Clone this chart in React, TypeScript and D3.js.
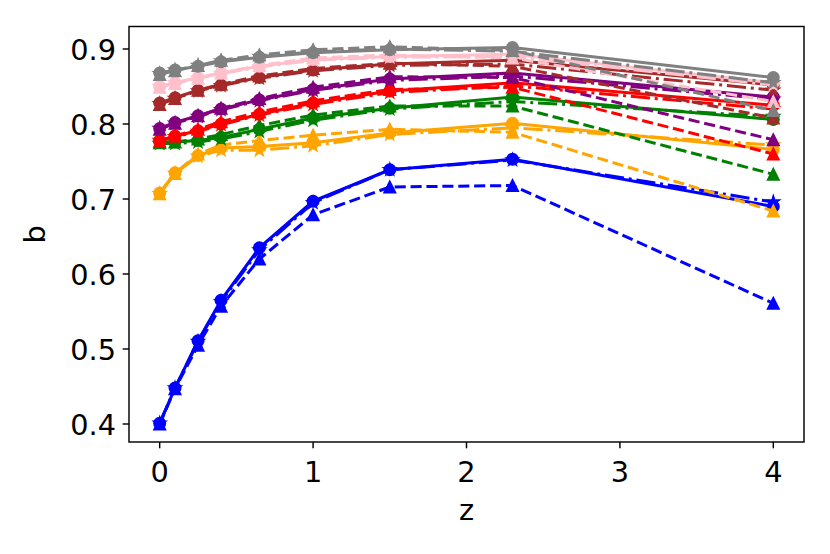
import React from 'react';
import * as d3 from 'd3';

const zValues = [0, 0.1, 0.25, 0.4, 0.65, 1, 1.5, 2.3, 4];
const xTicks = [0, 1, 2, 3, 4];
const yTicks = [0.4, 0.5, 0.6, 0.7, 0.8, 0.9];

// solid / circle, dashed / triangle, dash-dot / star
const blueSolid = [0.401, 0.448, 0.511, 0.565, 0.635, 0.697, 0.739, 0.753, 0.69];
const blueDashed = [0.4, 0.447, 0.505, 0.557, 0.62, 0.679, 0.716, 0.718, 0.561];
const blueDashDot = [0.401, 0.448, 0.51, 0.563, 0.632, 0.695, 0.739, 0.752, 0.696];

const orangeSolid = [0.708, 0.735, 0.758, 0.768, 0.77, 0.775, 0.788, 0.801, 0.766];
const orangeDashed = [0.707, 0.734, 0.76, 0.772, 0.778, 0.785, 0.793, 0.789, 0.684];
const orangeDashDot = [0.707, 0.734, 0.757, 0.765, 0.765, 0.771, 0.786, 0.795, 0.772];

const greenSolid = [0.776, 0.776, 0.778, 0.782, 0.793, 0.808, 0.821, 0.836, 0.806];
const greenDashed = [0.775, 0.776, 0.78, 0.786, 0.798, 0.812, 0.824, 0.824, 0.733];
const greenDashDot = [0.774, 0.774, 0.776, 0.78, 0.79, 0.805, 0.82, 0.83, 0.81];

const redSolid = [0.778, 0.784, 0.791, 0.8, 0.813, 0.828, 0.844, 0.855, 0.825];
const redDashed = [0.777, 0.784, 0.793, 0.803, 0.816, 0.831, 0.846, 0.849, 0.76];
const redDashDot = [0.778, 0.783, 0.79, 0.799, 0.812, 0.826, 0.842, 0.851, 0.82];

const purpleSolid = [0.794, 0.802, 0.811, 0.82, 0.832, 0.846, 0.86, 0.868, 0.836];
const purpleDashed = [0.793, 0.801, 0.811, 0.821, 0.834, 0.849, 0.863, 0.862, 0.779];
const purpleDashDot = [0.794, 0.801, 0.81, 0.819, 0.831, 0.845, 0.858, 0.864, 0.833];

const brownSolid = [0.828, 0.835, 0.845, 0.852, 0.862, 0.872, 0.88, 0.885, 0.852];
const brownDashed = [0.826, 0.834, 0.845, 0.853, 0.864, 0.874, 0.881, 0.877, 0.808];
const brownDashDot = [0.827, 0.834, 0.844, 0.851, 0.861, 0.871, 0.878, 0.88, 0.845];

const pinkSolid = [0.85, 0.855, 0.862, 0.868, 0.877, 0.886, 0.89, 0.893, 0.855];
const pinkDashed = [0.849, 0.854, 0.861, 0.868, 0.878, 0.888, 0.892, 0.888, 0.83];
const pinkDashDot = [0.85, 0.855, 0.861, 0.867, 0.876, 0.885, 0.889, 0.89, 0.852];

const graySolid = [0.868, 0.872, 0.877, 0.883, 0.889, 0.895, 0.899, 0.902, 0.862];
const grayDashed = [0.866, 0.871, 0.878, 0.885, 0.892, 0.899, 0.903, 0.898, 0.818];
const grayDashDot = [0.867, 0.872, 0.878, 0.884, 0.89, 0.896, 0.9, 0.897, 0.855];

const groups = [
  {color: 'blue', solid: blueSolid, dashed: blueDashed, dashDot: blueDashDot},
  {color: 'orange', solid: orangeSolid, dashed: orangeDashed, dashDot: orangeDashDot},
  {color: 'green', solid: greenSolid, dashed: greenDashed, dashDot: greenDashDot},
  {color: 'red', solid: redSolid, dashed: redDashed, dashDot: redDashDot},
  {color: 'purple', solid: purpleSolid, dashed: purpleDashed, dashDot: purpleDashDot},
  {color: 'brown', solid: brownSolid, dashed: brownDashed, dashDot: brownDashDot},
  {color: 'pink', solid: pinkSolid, dashed: pinkDashed, dashDot: pinkDashDot},
  {color: 'gray', solid: graySolid, dashed: grayDashed, dashDot: grayDashDot},
];

const width = 830;
const height = 554;
const plot = {left: 129, right: 804, top: 26.5, bottom: 442};
const font = '"DejaVu Sans", sans-serif';
const fontSize = 28.8;
const lineWidth = 3;
const markerR = 5.6;

const x = d3.scaleLinear().domain([-0.2, 4.2]).range([plot.left, plot.right]);
const y = d3.scaleLinear().domain([0.376, 0.93]).range([plot.bottom, plot.top]);

const line = d3
  .line<number>()
  .x((_, i) => x(zValues[i]))
  .y((d) => y(d));

function starPath(r: number) {
  const inner = r * 0.381966;
  const pts: string[] = [];
  for (let i = 0; i < 10; i++) {
    const a = -Math.PI / 2 + (i * Math.PI) / 5;
    const rr = i % 2 === 0 ? r : inner;
    pts.push(`${rr * Math.cos(a)},${rr * Math.sin(a)}`);
  }
  return `M${pts.join('L')}Z`;
}

const markerPaths: Record<string, string> = {
  circle: `M${markerR},0A${markerR},${markerR},0,1,1,${-markerR},0A${markerR},${markerR},0,1,1,${markerR},0Z`,
  triangle: `M0,${-markerR}L${-markerR},${markerR}L${markerR},${markerR}Z`,
  star: starPath(markerR * 1.05),
};

const styles = [
  {key: 'solid', dash: undefined, marker: 'circle'},
  {key: 'dashed', dash: '11.1,4.8', marker: 'triangle'},
  {key: 'dashDot', dash: '19.2,4.8,3,4.8', marker: 'star'},
] as const;

const App: React.FC = () => {
  return (
    <svg
      width={width}
      height={height}
      style={{position: 'absolute', left: 0, top: 0, background: '#fff'}}
      fontFamily={font}
    >
      <rect x={0} y={0} width={width} height={height} fill='#fff' />
      <g>
        {groups.map((g) =>
          styles.map((s) => {
            const values = g[s.key];
            return (
              <g key={`${g.color}-${s.key}`}>
                <path
                  d={line(values) ?? ''}
                  fill='none'
                  stroke={g.color}
                  strokeWidth={lineWidth}
                  strokeDasharray={s.dash}
                  strokeLinejoin='round'
                />
                {values.map((v, i) => (
                  <path
                    key={i}
                    d={markerPaths[s.marker]}
                    transform={`translate(${x(zValues[i])},${y(v)})`}
                    fill={g.color}
                    stroke={g.color}
                    strokeWidth={1.8}
                    strokeLinejoin='miter'
                  />
                ))}
              </g>
            );
          })
        )}
      </g>
      <rect
        x={plot.left}
        y={plot.top}
        width={plot.right - plot.left}
        height={plot.bottom - plot.top}
        fill='none'
        stroke='#000'
        strokeWidth={1.44}
      />
      {xTicks.map((t) => (
        <g key={`x${t}`} transform={`translate(${x(t)},${plot.bottom})`}>
          <line y2={6.3} stroke='#000' strokeWidth={1.44} />
          <text y={39.5} textAnchor='middle' fontSize={fontSize} fill='#000'>
            {t}
          </text>
        </g>
      ))}
      {yTicks.map((t) => (
        <g key={`y${t}`} transform={`translate(${plot.left},${y(t)})`}>
          <line x2={-6.3} stroke='#000' strokeWidth={1.44} />
          <text x={-13} y={10.5} textAnchor='end' fontSize={fontSize} fill='#000'>
            {d3.format('.1f')(t)}
          </text>
        </g>
      ))}
      <text
        x={(plot.left + plot.right) / 2}
        y={520}
        textAnchor='middle'
        fontSize={fontSize}
        fill='#000'
      >
        z
      </text>
      <text
        transform={`translate(45,${(plot.top + plot.bottom) / 2}) rotate(-90)`}
        textAnchor='middle'
        fontSize={fontSize}
        fill='#000'
      >
        b
      </text>
    </svg>
  );
};

export default App;
